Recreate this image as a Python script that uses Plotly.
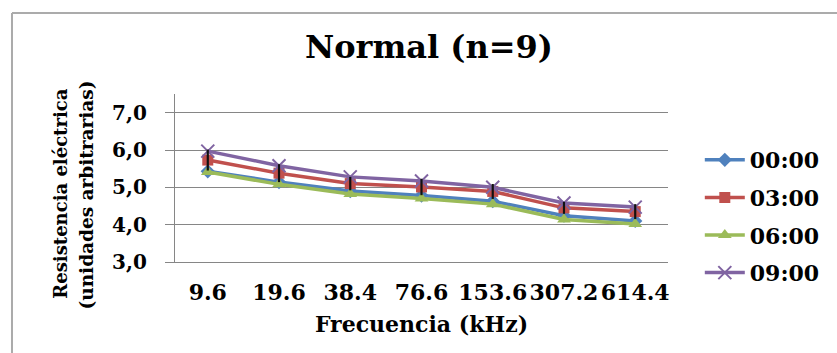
import plotly.graph_objects as go

# Frequencies (kHz) shown as categories
frecuencias = ["9.6", "19.6", "38.4", "76.6", "153.6", "307.2", "614.4"]

# Mean electrical resistance per time of day
serie_0000 = [5.43, 5.14, 4.90, 4.78, 4.63, 4.24, 4.10]
serie_0300 = [5.73, 5.38, 5.10, 5.01, 4.89, 4.45, 4.35]
serie_0600 = [5.41, 5.08, 4.82, 4.70, 4.55, 4.14, 4.02]
serie_0900 = [5.97, 5.58, 5.28, 5.17, 5.00, 4.58, 4.47]

# Spread drawn as error bars on the 03:00 series
error_0300 = [0.28, 0.24, 0.18, 0.22, 0.20, 0.16, 0.20]

y_ticks = [3, 4, 5, 6, 7]
y_tick_text = ["3,0", "4,0", "5,0", "6,0", "7,0"]

FONT = "DejaVu Serif"
W, H = 837, 353
L, R, T, B = 175, 166, 94, 91

series = [
    ("00:00", serie_0000, "#4F81BD", "diamond", 11, 0),
    ("03:00", serie_0300, "#C0504D", "square", 11, 0),
    ("06:00", serie_0600, "#9BBB59", "triangle-up", 12, 0),
    ("09:00", serie_0900, "#8064A2", "x-thin-open", 13, 2),
]

fig = go.Figure()
for name, vals, color, symbol, size, lw in series:
    marker = dict(symbol=symbol, size=size, color=color)
    if lw:
        marker["line"] = dict(color=color, width=lw)
    fig.add_trace(go.Scatter(
        x=frecuencias, y=vals, name="<b>%s</b>" % name, legendgroup=name,
        mode="lines+markers", line=dict(color=color, width=3.5), marker=marker,
    ))

# error bars on top of all series
fig.add_trace(go.Scatter(
    x=frecuencias, y=serie_0300, mode="markers", showlegend=False,
    marker=dict(size=1, opacity=0),
    error_y=dict(type="data", array=error_0300, visible=True,
                 color="#111111", thickness=2.2, width=0),
    hoverinfo="skip",
))

def px_x(p):
    return (p - L) / (W - L - R)

def px_y(p):
    return (H - B - p) / (H - T - B)

fig.update_layout(
    width=W, height=H,
    margin=dict(l=L, r=R, t=T, b=B, pad=0),
    paper_bgcolor="white", plot_bgcolor="white",
    font=dict(family=FONT, color="#000000"),
    title=dict(text="<b>Normal (n=9)</b>", font=dict(family=FONT, size=32, color="#000000"),
               x=429 / W, xanchor="center", y=1 - 47 / H, yanchor="middle"),
    xaxis=dict(
        type="category", showgrid=False, showline=True, linecolor="#868686", linewidth=1.3,
        ticks="", tickangle=0, ticklabelstandoff=10,
        tickfont=dict(family=FONT, size=22, color="#000000"),
        title=dict(text="<b>Frecuencia (kHz)</b>", font=dict(family=FONT, size=22, color="#000000"),
                   standoff=13),
        tickprefix="<b>", ticksuffix="</b>",
    ),
    yaxis=dict(
        range=[3, 7.5], tickvals=y_ticks, ticktext=["<b>%s</b>" % t for t in y_tick_text],
        showgrid=True, gridcolor="#868686", gridwidth=1.3, zeroline=False,
        showline=True, linecolor="#868686", linewidth=1.3,
        ticks="outside", ticklen=9, tickcolor="#868686", tickwidth=1.3,
        ticklabelstandoff=14,
        tickfont=dict(family=FONT, size=20, color="#000000"),
    ),
    legend=dict(
        x=px_x(703), xanchor="left", y=px_y(139), yanchor="top",
        font=dict(family=FONT, size=22, color="#000000"),
        itemwidth=40, tracegroupgap=6, bgcolor="rgba(0,0,0,0)",
    ),
    showlegend=True,
)

# two-line rotated y-axis title
fig.add_annotation(text="<b>Resistencia eléctrica</b>", textangle=-90, showarrow=False,
                   xref="paper", yref="paper", x=px_x(59), y=px_y(194),
                   xanchor="center", yanchor="middle",
                   font=dict(family=FONT, size=18, color="#000000"))
fig.add_annotation(text="<b>(unidades arbitrarias)</b>", textangle=-90, showarrow=False,
                   xref="paper", yref="paper", x=px_x(85), y=px_y(195),
                   xanchor="center", yanchor="middle",
                   font=dict(family=FONT, size=18.5, color="#000000"))

# chart-area frame (top and left edges)
fig.add_shape(type="line", xref="paper", yref="paper",
              x0=px_x(11), x1=px_x(W + 5), y0=px_y(13), y1=px_y(13),
              line=dict(color="#ababab", width=2))
fig.add_shape(type="line", xref="paper", yref="paper",
              x0=px_x(11), x1=px_x(11), y0=px_y(13), y1=px_y(H + 5),
              line=dict(color="#ababab", width=2))

fig.write_html("out.html")
